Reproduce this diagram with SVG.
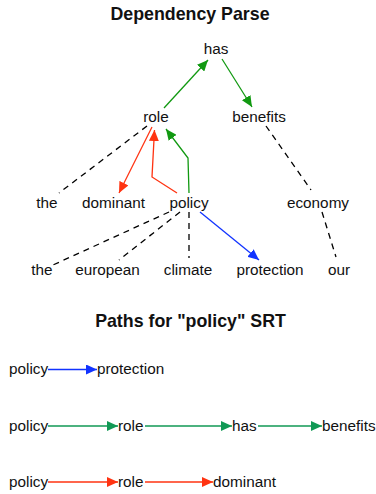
<svg xmlns="http://www.w3.org/2000/svg" width="376" height="494" viewBox="0 0 376 494">
<style>
text{font-family:"Liberation Sans",Arial,sans-serif;fill:#111}
.n{font-size:15.3px;text-anchor:middle}
.p{font-size:15.3px}
.t{font-size:17.8px;font-weight:bold;text-anchor:middle}
.d{stroke:#000;stroke-width:1.3;stroke-dasharray:6,5;fill:none}
.g{stroke:#119911;stroke-width:1.3;fill:none;marker-end:url(#ag)}
.r{stroke:#ff3311;stroke-width:1.3;fill:none;marker-end:url(#ar)}
.b{stroke:#1133ff;stroke-width:1.3;fill:none;marker-end:url(#ab)}
.g2{stroke:#119955;stroke-width:1.3;fill:none;marker-end:url(#ag2)}
</style>
<defs>
<marker id="ag" markerUnits="userSpaceOnUse" markerWidth="12" markerHeight="10" refX="11" refY="5" orient="auto"><path d="M0,0L11,5L0,10z" fill="#119911"/></marker>
<marker id="ar" markerUnits="userSpaceOnUse" markerWidth="12" markerHeight="10" refX="11" refY="5" orient="auto"><path d="M0,0L11,5L0,10z" fill="#ff3311"/></marker>
<marker id="ab" markerUnits="userSpaceOnUse" markerWidth="12" markerHeight="10" refX="11" refY="5" orient="auto"><path d="M0,0L11,5L0,10z" fill="#1133ff"/></marker>
<marker id="ag2" markerUnits="userSpaceOnUse" markerWidth="12" markerHeight="10" refX="11" refY="5" orient="auto"><path d="M0,0L11,5L0,10z" fill="#119955"/></marker>
</defs>
<rect width="376" height="494" fill="#fff"/>
<text class="t" x="190" y="20">Dependency Parse</text>
<g id="connectors">
<line class="g" x1="164" y1="108" x2="208" y2="60"/>
<line class="g" x1="222" y1="59" x2="252" y2="107"/>
<line class="d" x1="147" y1="126" x2="59" y2="193"/>
<line class="r" x1="152" y1="127" x2="119" y2="193"/>
<polyline class="r" points="177,193 152,177 154.5,130"/>
<polyline class="g" points="189,193 188,158 166,129"/>
<line class="d" x1="266" y1="126" x2="311" y2="190"/>
<line class="d" x1="322" y1="212" x2="336" y2="257"/>
<line class="d" x1="169" y1="212" x2="53" y2="265"/>
<line class="d" x1="180" y1="212" x2="119" y2="260"/>
<line class="d" x1="189" y1="212" x2="189" y2="258"/>
<line class="b" x1="200" y1="212" x2="259" y2="260"/>
</g>
<g id="n-has"><text class="n" x="216" y="54">has</text></g>
<g id="n-role"><text class="n" x="156" y="122">role</text></g>
<g id="n-benefits"><text class="n" x="259" y="122">benefits</text></g>
<g id="n-the1"><text class="n" x="47" y="208">the</text></g>
<g id="n-dominant"><text class="n" x="113.5" y="208">dominant</text></g>
<g id="n-policy"><text class="n" x="189" y="208">policy</text></g>
<g id="n-economy"><text class="n" x="318" y="208">economy</text></g>
<g id="n-the2"><text class="n" x="42" y="275">the</text></g>
<g id="n-european"><text class="n" x="107.5" y="275">european</text></g>
<g id="n-climate"><text class="n" x="188" y="275">climate</text></g>
<g id="n-protection"><text class="n" x="270" y="275">protection</text></g>
<g id="n-our"><text class="n" x="339" y="275">our</text></g>
<text class="t" x="190.5" y="327">Paths for "policy" SRT</text>
<g id="paths">
<line class="b" x1="48" y1="369.5" x2="97" y2="369.5"/>
<line class="g2" x1="48" y1="426" x2="118" y2="426"/>
<line class="g2" x1="145" y1="426" x2="232" y2="426"/>
<line class="g2" x1="258" y1="426" x2="322" y2="426"/>
<line class="r" x1="48" y1="482" x2="118" y2="482"/>
<line class="r" x1="145" y1="482" x2="213" y2="482"/>
</g>
<g id="path1"><text class="p" x="9" y="374">policy</text><text class="p" x="97" y="374">protection</text></g>
<g id="path2"><text class="p" x="9" y="431">policy</text><text class="p" x="118" y="431">role</text><text class="p" x="232" y="431">has</text><text class="p" x="322" y="431">benefits</text></g>
<g id="path3"><text class="p" x="9" y="487">policy</text><text class="p" x="118" y="487">role</text><text class="p" x="213" y="487">dominant</text></g>
</svg>
